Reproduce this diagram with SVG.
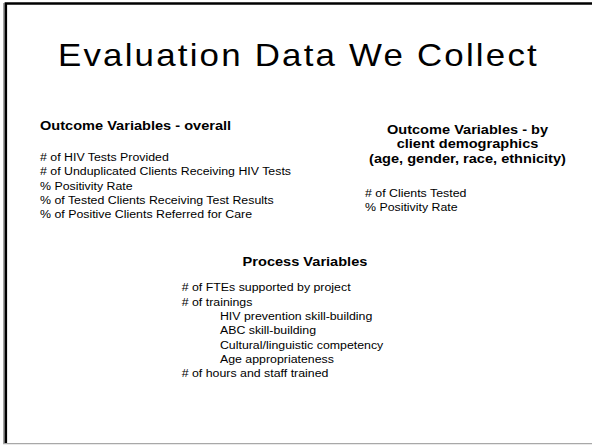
<svg xmlns="http://www.w3.org/2000/svg" width="592" height="445" viewBox="0 0 592 445">
<style>
.t{font-family:"Liberation Sans",Arial,sans-serif;fill:#000}
.title{font-size:31.7px;letter-spacing:2px}
.h{font-size:12px;font-weight:bold}
.b{font-size:10.8px}
</style>
<rect x="0" y="0" width="592" height="445" fill="#fff"/>
<g id="frame">
<line x1="3.9" y1="3" x2="3.9" y2="444" stroke="#9a9a9a" stroke-width="1.6"/>
<line x1="3" y1="443.6" x2="592" y2="443.6" stroke="#a8a8a8" stroke-width="1.2"/>
<path d="M5.85,443 V3.6 H592" fill="none" stroke="#000" stroke-width="2.5"/>
</g>
<g id="title">
<g transform="translate(58,0) scale(1.1,1)">
<text class="t title" x="0" y="66">Evaluation Data We Collect</text>
</g>
</g>
<g id="outcome-overall">
<g transform="translate(40,0) scale(1.215,1)">
<text class="t h" x="0" y="130">Outcome Variables - overall</text>
</g>
<g transform="translate(40,0) scale(1.145,1)">
<text class="t b" x="0" y="161"># of HIV Tests Provided</text>
<text class="t b" x="0" y="175.3"># of Unduplicated Clients Receiving HIV Tests</text>
<text class="t b" x="0" y="189.6">% Positivity Rate</text>
<text class="t b" x="0" y="203.9">% of Tested Clients Receiving Test Results</text>
<text class="t b" x="0" y="218.2">% of Positive Clients Referred for Care</text>
</g>
</g>
<g id="outcome-demographics">
<g transform="translate(467.5,0) scale(1.215,1)">
<text class="t h" x="0" y="134" text-anchor="middle">Outcome Variables - by</text>
<text class="t h" x="0" y="148.5" text-anchor="middle">client demographics</text>
<text class="t h" x="0" y="163" text-anchor="middle">(age, gender, race, ethnicity)</text>
</g>
<g transform="translate(365,0) scale(1.145,1)">
<text class="t b" x="0" y="197.3"># of Clients Tested</text>
<text class="t b" x="0" y="211.3">% Positivity Rate</text>
</g>
</g>
<g id="process">
<g transform="translate(305,0) scale(1.215,1)">
<text class="t h" x="0" y="266.5" text-anchor="middle">Process Variables</text>
</g>
<g transform="translate(181.7,0) scale(1.145,1)">
<text class="t b" x="0" y="291.5"># of FTEs supported by project</text>
<text class="t b" x="0" y="305.8"># of trainings</text>
<text class="t b" x="33.4" y="320.1">HIV prevention skill-building</text>
<text class="t b" x="33.4" y="334.4">ABC skill-building</text>
<text class="t b" x="33.4" y="348.7">Cultural/linguistic competency</text>
<text class="t b" x="33.4" y="363">Age appropriateness</text>
<text class="t b" x="0" y="377.3"># of hours and staff trained</text>
</g>
</g>
</svg>
